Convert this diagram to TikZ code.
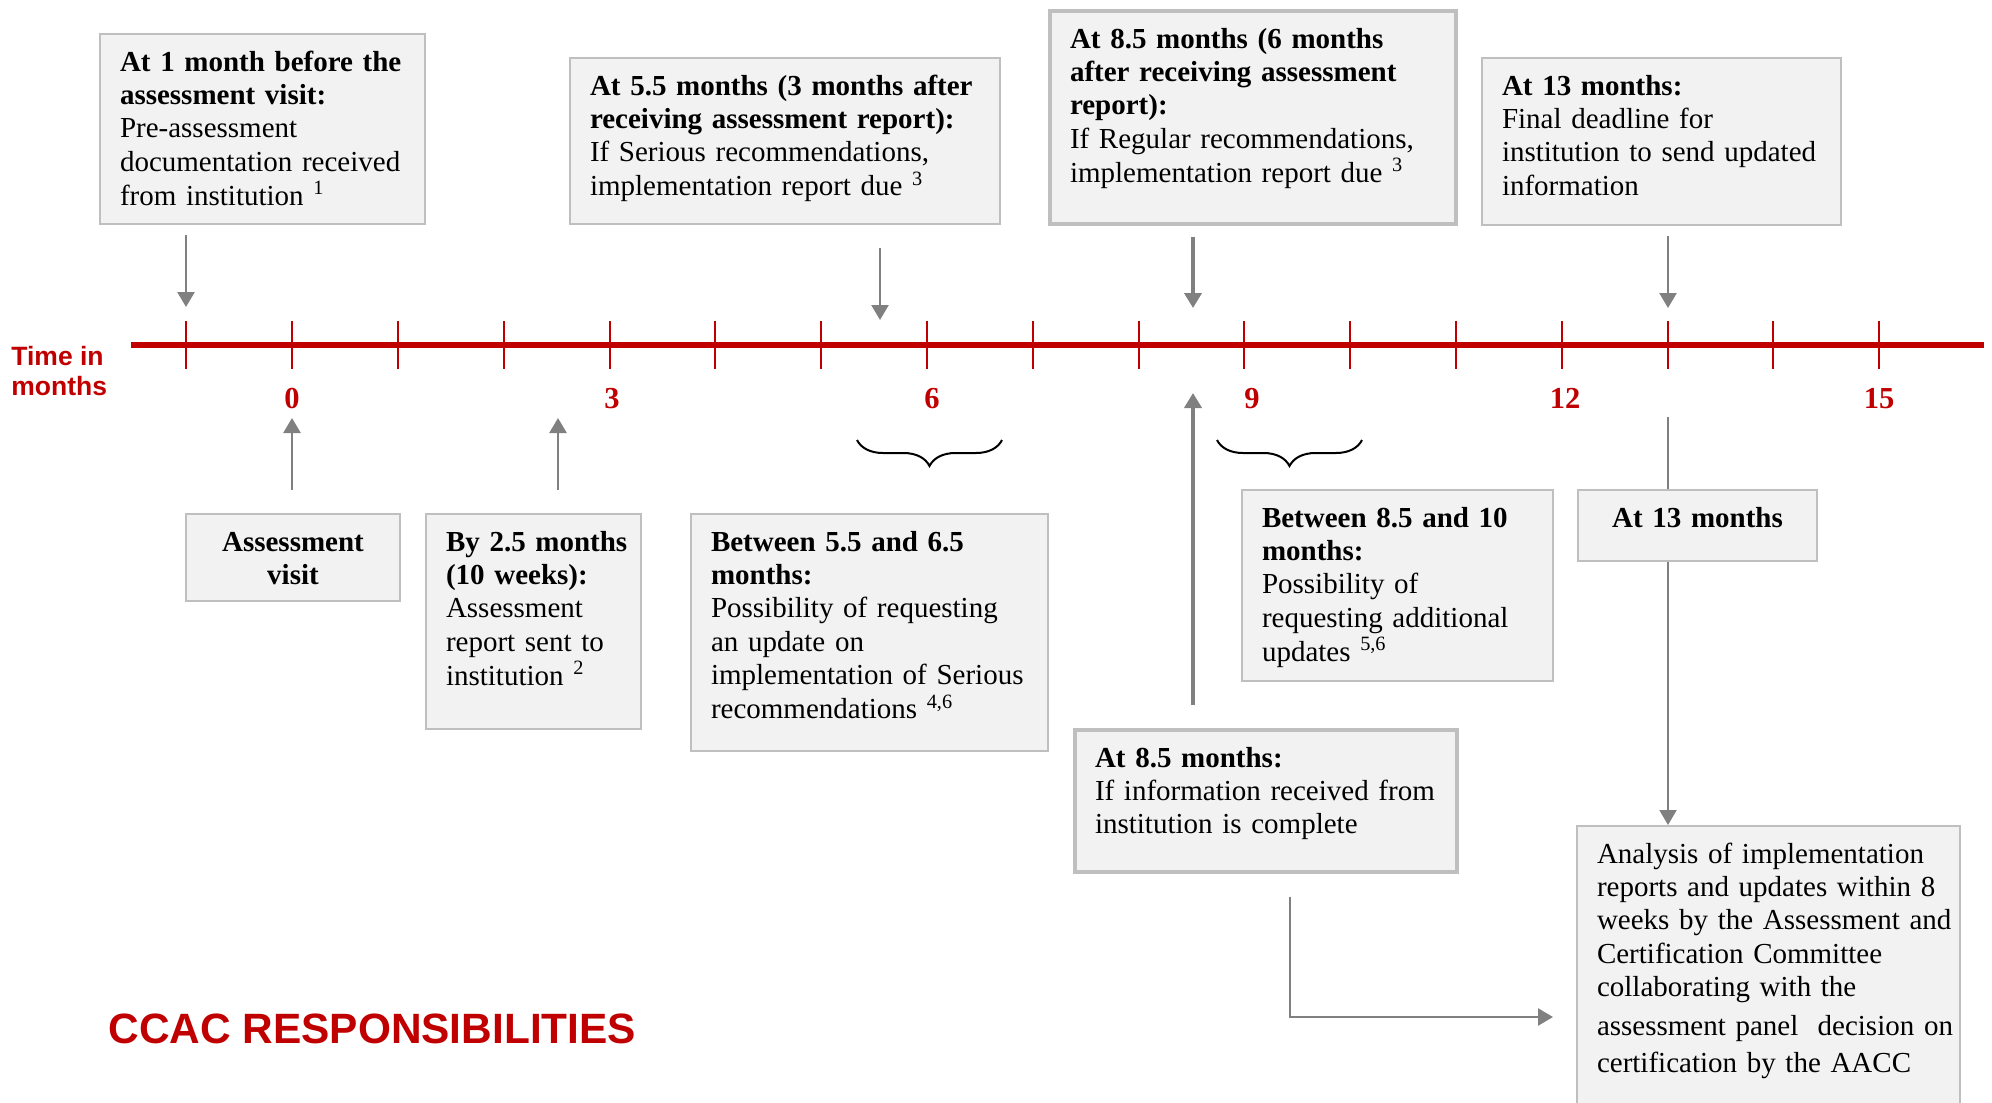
\documentclass[tikz,border=0pt]{standalone}
\usepackage{fontspec}
\setmainfont{Liberation Serif}
\setsansfont{Liberation Sans}
\usetikzlibrary{arrows.meta,decorations.pathreplacing}
\definecolor{ccacred}{RGB}{192,0,0}
\definecolor{boxfill}{RGB}{242,242,242}
\definecolor{boxline}{RGB}{191,191,191}
\definecolor{arrowgray}{RGB}{128,128,128}
\newcommand{\bxfont}{\fontsize{14.5pt}{16.7pt}\selectfont}
\newcommand{\numfont}{\fontsize{15.25pt}{17pt}\selectfont\bfseries}
\newcommand{\axisfont}{\sffamily\bfseries\fontsize{13.25pt}{15pt}\selectfont}
\newcommand{\titlefont}{\sffamily\bfseries\fontsize{21.2pt}{25pt}\selectfont}
% lines of a box, kept as they are broken
\newcommand{\boxlines}[1]{\begin{tabular}[t]{@{}l@{}}#1\end{tabular}}
\begin{document}
\begin{tikzpicture}[x=0.5pt,y=-0.5pt,
  infobox/.style={draw=boxline,fill=boxfill,line width=1pt,anchor=north west,align=left,
    inner xsep=10pt,inner ysep=8.5pt,text height=10pt,font=\bxfont},
  thickbox/.style={infobox,line width=2pt},
  arr/.style={draw=arrowgray,line width=1.25pt,-{Triangle[length=7.5pt,width=8.5pt]}},
  link/.style={draw=arrowgray,line width=1pt},
  brc/.style={decorate,decoration={brace,mirror,amplitude=13pt},line width=1pt},
  monthnum/.style={text=ccacred,font=\numfont,anchor=base,inner sep=0pt}]
 \useasboundingbox (0,0) rectangle (1992,1103);
 \clip (0,0) rectangle (1992,1103);
 % time axis
 \draw[ccacred,line width=3pt] (131,345) -- (1984,345);
 \draw[ccacred,line width=1pt] (186,321)--(186,369) (292,321)--(292,369) (398,321)--(398,369)
   (504,321)--(504,369) (610,321)--(610,369) (715,321)--(715,369) (821,321)--(821,369)
   (927,321)--(927,369) (1033,321)--(1033,369) (1139,321)--(1139,369) (1244,321)--(1244,369)
   (1350,321)--(1350,369) (1456,321)--(1456,369) (1562,321)--(1562,369) (1668,321)--(1668,369)
   (1773,321)--(1773,369) (1879,321)--(1879,369);
 \node[monthnum] (n0) at (292,408) {0};
 \node[monthnum] (n3) at (612,408) {3};
 \node[monthnum] (n6) at (932,408) {6};
 \node[monthnum] (n9) at (1252,408) {9};
 \node[monthnum] (n12) at (1565,408) {12};
 \node[monthnum] (n15) at (1879,408) {15};
 \node[anchor=north west,inner sep=0pt,align=left,text=ccacred,font=\axisfont] (tlabel) at (11,346) {Time in\\months};
 \node[anchor=base west,inner sep=0pt,text=ccacred,font=\titlefont] (title) at (108,1043) {CCAC RESPONSIBILITIES};

 % boxes above the axis
 \node[infobox,text width=142.5pt,text depth=68pt] (early) at (99,33)
   {\boxlines{\textbf{At 1 month before the}\\ \textbf{assessment visit:}\\ Pre-assessment\\ documentation received\\ from institution \textsuperscript{1}}};
 \node[infobox,text width=195pt,text depth=56pt] (serious) at (569,57)
   {\boxlines{\textbf{At 5.5 months (3 months after}\\ \textbf{receiving assessment report):}\\ If Serious recommendations,\\ implementation report due \textsuperscript{3}}};
 \node[thickbox,text width=183pt,text depth=79.5pt] (regular) at (1048,9)
   {\boxlines{\textbf{At 8.5 months (6 months}\\ \textbf{after receiving assessment}\\ \textbf{report):}\\ If Regular recommendations,\\ implementation report due \textsuperscript{3}}};
 \node[infobox,text width=159.5pt,text depth=56.5pt] (final) at (1481,57)
   {\boxlines{\textbf{At 13 months:}\\ Final deadline for\\ institution to send updated\\ information}};

 % boxes below the axis
 \node[infobox,align=center,text width=87pt,text depth=16.5pt] (visit) at (185,513)
   {\textbf{Assessment\\ visit}};
 \node[infobox,text width=87.5pt,text depth=80.5pt] (sent) at (425,513)
   {\boxlines{\textbf{By 2.5 months}\\ \textbf{(10 weeks):}\\ Assessment\\ report sent to\\ institution \textsuperscript{2}}};
 \node[infobox,text width=158.5pt,text depth=91.5pt] (upd1) at (690,513)
   {\boxlines{\textbf{Between 5.5 and 6.5}\\ \textbf{months:}\\ Possibility of requesting\\ an update on\\ implementation of Serious\\ recommendations \textsuperscript{4,6}}};
 \node[infobox,text width=135.5pt,text depth=68.5pt] (upd2) at (1241,489)
   {\boxlines{\textbf{Between 8.5 and 10}\\ \textbf{months:}\\ Possibility of\\ requesting additional\\ updates \textsuperscript{5,6}}};
 \node[infobox,align=center,text width=99.5pt,text depth=8.5pt] (low13) at (1577,489)
   {\textbf{At 13 months}};
 \node[thickbox,text width=171pt,text depth=44pt] (complete) at (1073,728)
   {\boxlines{\textbf{At 8.5 months:}\\ If information received from\\ institution is complete}};
 \node[infobox,text width=171.5pt,text depth=122pt] (analysis) at (1576,825)
   {\boxlines{Analysis of implementation\\ reports and updates within 8\\ weeks by the Assessment and\\ Certification Committee\\ collaborating with the\\[2.8pt] assessment panel~ decision on\\[1.8pt] certification by the AACC}};

 % braces
 \draw[brc] (857,440) -- (1002,440);
 \draw[brc] (1217,440) -- (1362,440);

 % connectors
 \coordinate (d1) at (186,307);
 \coordinate (d2) at (880,320);
 \coordinate (d3) at (1193,308);
 \coordinate (d4) at (1668,308);
 \coordinate (u1) at (292,418);
 \coordinate (u2) at (558,418);
 \coordinate (u3) at (1193,393);
 \coordinate (c13) at (1668,417);
 \coordinate (bend) at (1290,1017);
 \draw[arr,shorten <=5pt] (early.south -| d1) -- (d1);
 \draw[arr,shorten <=11.5pt] (serious.south -| d2) -- (d2);
 \draw[arr,line width=2pt,shorten <=5.5pt] (regular.south -| d3) -- (d3);
 \draw[arr,shorten <=5pt] (final.south -| d4) -- (d4);
 \draw[arr,shorten <=11.5pt] (visit.north -| u1) -- (u1);
 \draw[arr,shorten <=11.5pt] (sent.north -| u2) -- (u2);
 \draw[arr,line width=2pt,shorten <=11.5pt] (complete.north -| u3) -- (u3);
 \draw[link] (c13) -- (c13 |- low13.north);
 \draw[arr,line width=1pt] (c13 |- low13.south) -- (c13 |- analysis.north);
 \draw[arr,shorten <=11.5pt,shorten >=11.5pt] (complete.south -| bend) |- (analysis.west |- bend);
\end{tikzpicture}
\end{document}
